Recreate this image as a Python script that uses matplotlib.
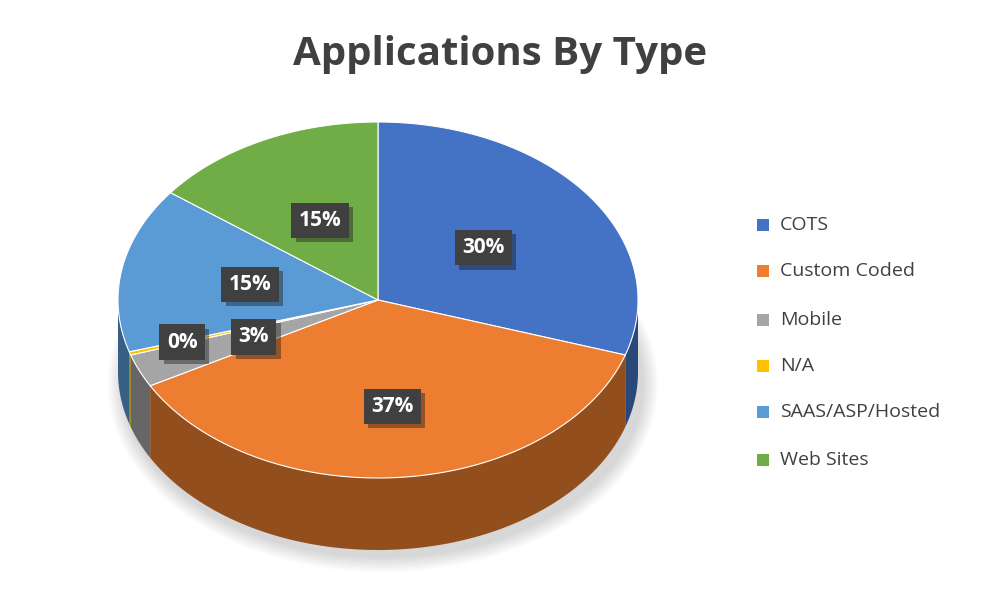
import numpy as np
import matplotlib
matplotlib.use("Agg")
import matplotlib.pyplot as plt
from matplotlib.patches import Rectangle, Ellipse
import matplotlib.patheffects as pe

categories = ["COTS", "Custom Coded", "Mobile", "N/A", "SAAS/ASP/Hosted", "Web Sites"]
values = [30, 37, 3, 0.3, 15, 14.7]
labels = ["30%", "37%", "3%", "0%", "15%", "15%"]
colors = ["#4472C4", "#ED7D31", "#A5A5A5", "#FFC000", "#5B9BD5", "#70AD47"]
label_r = [0.5, 0.6, 0.52, 0.79, 0.5, 0.5]

cx, cy, rx, ry, depth = 378, 300, 260, 178, 72

fig = plt.figure(figsize=(10, 6), dpi=100)
ax = fig.add_axes([0, 0, 1, 1])
ax.set_xlim(0, 1000)
ax.set_ylim(600, 0)
ax.axis("off")

# shadow
for k in range(8):
    ax.add_patch(Ellipse((cx + 5, cy + depth + 12), 2 * rx + 30 - 4 * k, 2 * ry + 20 - 4 * k,
                         color="#000000", alpha=0.02, lw=0, zorder=0))

def rim(t, dy=0):
    t = np.radians(t)
    return cx + rx * np.sin(t), cy - ry * np.cos(t) + dy

fr = np.array(values) / sum(values) * 360
starts = np.concatenate([[0], np.cumsum(fr)[:-1]])

def darker(c, f=0.62):
    r, g, b = matplotlib.colors.to_rgb(c)
    return (r * f, g * f, b * f)

# sides
for s, w, c in zip(starts, fr, colors):
    a, b = max(s, 90), min(s + w, 270)
    if b <= a:
        continue
    t = np.linspace(a, b, 100)
    x1, y1 = rim(t)
    x2, y2 = rim(t[::-1], depth)
    ax.fill(np.concatenate([x1, x2]), np.concatenate([y1, y2]), color=darker(c), lw=0, zorder=1)

# top
for s, w, c in zip(starts, fr, colors):
    t = np.linspace(s, s + w, 200)
    x, y = rim(t)
    ax.fill(np.concatenate([[cx], x]), np.concatenate([[cy], y]), color=c, lw=0.8,
            edgecolor="white" if w > 1 else c, zorder=2)

# labels
for s, w, lab, r in zip(starts, fr, labels, label_r):
    t = np.radians(s + w / 2)
    x, y = cx + r * rx * np.sin(t), cy - r * ry * np.cos(t)
    ax.text(x, y, lab, ha="center", va="center", color="white", fontsize=15, fontweight="bold",
            family="Open Sans", zorder=5,
            bbox=dict(boxstyle="square,pad=0.35", fc="#404040", ec="none",
                      path_effects=[pe.withSimplePatchShadow(offset=(3, -3), alpha=0.4)]))

ax.text(500, 55, "Applications By Type", ha="center", va="center", fontsize=29,
        fontweight="bold", color="#404040", family="Open Sans")

ys = [225, 271, 320, 366, 412, 460]
for yy, c, name in zip(ys, colors, categories):
    ax.add_patch(Rectangle((757, yy - 6), 12, 12, color=c, lw=0))
    ax.text(780, yy, name, ha="left", va="center", fontsize=14, color="#404040", family="Open Sans")

fig.savefig("out.png", dpi=100)
